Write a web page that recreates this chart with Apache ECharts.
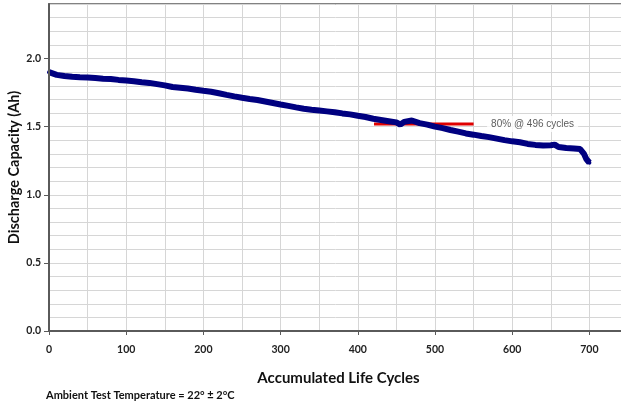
<!DOCTYPE html>
<html>
<head>
<meta charset="utf-8">
<script src="https://cdn.jsdelivr.net/npm/echarts@6/dist/echarts.min.js"></script>
<style>
html,body{margin:0;padding:0;background:#fff;}
#chart{width:621px;height:408px;}
</style>
</head>
<body>
<div id="chart"></div>
<script>
// Data
const cycles = [0,10,20,30,40,50,60,70,80,90,100,110,120,130,140,150,160,170,180,190,200,210,220,230,240,250,260,270,280,290,300,310,320,330,340,350,360,370,380,390,400,410,420,430,440,450,455,460,470,480,490,500,510,520,530,540,550,560,570,580,590,600,610,620,630,640,650,655,660,670,680,688,693,696,700];
const capacity = [1.90,1.88,1.872,1.866,1.862,1.860,1.857,1.852,1.849,1.843,1.838,1.833,1.826,1.821,1.812,1.803,1.791,1.786,1.780,1.771,1.763,1.756,1.745,1.733,1.722,1.712,1.703,1.695,1.684,1.673,1.662,1.652,1.641,1.631,1.624,1.618,1.612,1.606,1.597,1.590,1.580,1.571,1.558,1.549,1.540,1.531,1.515,1.535,1.545,1.526,1.515,1.500,1.489,1.475,1.463,1.450,1.441,1.431,1.423,1.412,1.401,1.392,1.385,1.373,1.366,1.362,1.364,1.368,1.350,1.343,1.340,1.335,1.300,1.262,1.235];
const thresholdCycles = [421, 550];
const thresholdValue = 1.52;
const annotationText = '80% @ 496 cycles';
const xTickLabels = [0,100,200,300,400,500,600,700];
const yTickLabels = [0,0.5,1.0,1.5,2.0];
const xTitle = 'Accumulated Life Cycles';
const yTitle = 'Discharge Capacity (Ah)';
const footer = 'Ambient Test Temperature = 22\u00b0 \u00b1 2\u00b0C';

const chart = echarts.init(document.getElementById('chart'), null, {renderer:'canvas'});
const font = 'Lato, "Open Sans", "DejaVu Sans", sans-serif';
const axisColor = '#5a5a5a';
const gridColor = '#d6d6d6';
chart.setOption({
  animation:false,
  backgroundColor:'#fff',
  grid:{left:49, top:4, right:-7, bottom:77, show:true, borderColor:axisColor, borderWidth:1.5,
        backgroundColor:'transparent', containLabel:false, outerBoundsMode:'none'},
  xAxis:[{
    type:'value', min:0, max:750, interval:100,
    name:xTitle, nameLocation:'middle', nameGap:40, nameMoveOverlap:false,
    nameTextStyle:{fontFamily:font, fontWeight:'bold', fontSize:15, color:'#111'},
    axisLine:{show:true, onZero:false, lineStyle:{color:axisColor, width:2}},
    axisTick:{show:true, length:4, customValues:xTickLabels, lineStyle:{color:axisColor}},
    axisLabel:{customValues:xTickLabels, margin:13, fontFamily:font, fontWeight:'bold', fontSize:10.5, color:'#222'},
    splitLine:{show:false}, z:5
  },{
    type:'value', min:0, max:750, interval:50, position:'bottom',
    axisLine:{show:false}, axisTick:{show:false}, axisLabel:{show:false},
    splitLine:{show:true, lineStyle:{color:gridColor, width:1}}
  }],
  yAxis:[{
    type:'value', min:0, max:2.4, interval:0.5,
    name:yTitle, nameLocation:'middle', nameGap:27, nameMoveOverlap:false,
    nameTextStyle:{fontFamily:font, fontWeight:'bold', fontSize:14.5, color:'#111'},
    axisLine:{show:true, onZero:false, lineStyle:{color:axisColor, width:2}},
    axisTick:{show:true, length:5, customValues:yTickLabels, lineStyle:{color:axisColor}},
    axisLabel:{customValues:yTickLabels, margin:8, fontFamily:font, fontWeight:'bold', fontSize:10.5, color:'#222',
      formatter:v=>v.toFixed(1)},
    splitLine:{show:false}, z:5
  },{
    type:'value', min:0, max:2.4, interval:0.1, position:'left',
    axisLine:{show:false}, axisTick:{show:false}, axisLabel:{show:false},
    splitLine:{show:true, lineStyle:{color:gridColor, width:1}}
  }],
  series:[
    {
      type:'line', data:thresholdCycles.map(c=>[c,thresholdValue]), symbol:'none',
      lineStyle:{color:'#e00000', width:3}, z:2
    },
    {
      type:'line', data:cycles.map((c,i)=>[c,capacity[i]]), symbol:'circle', symbolSize:4,
      itemStyle:{color:'#000080'}, lineStyle:{color:'#000080', width:6}, z:3
    },
    {
      type:'scatter', data:[[thresholdCycles[1],thresholdValue]], symbolSize:1, z:4,
      itemStyle:{color:'rgba(0,0,0,0)'},
      label:{show:true, position:'right', distance:13, formatter:annotationText,
        fontFamily:'"Liberation Sans", Arial, sans-serif', fontSize:10, color:'#333',
        backgroundColor:'#fff', padding:[3,4]}
    }
  ],
  graphic:[
    {type:'text', left:46, top:390, style:{text:footer, font:'bold 11px '+font, fill:'#111'}}
  ]
});
</script>
</body>
</html>
